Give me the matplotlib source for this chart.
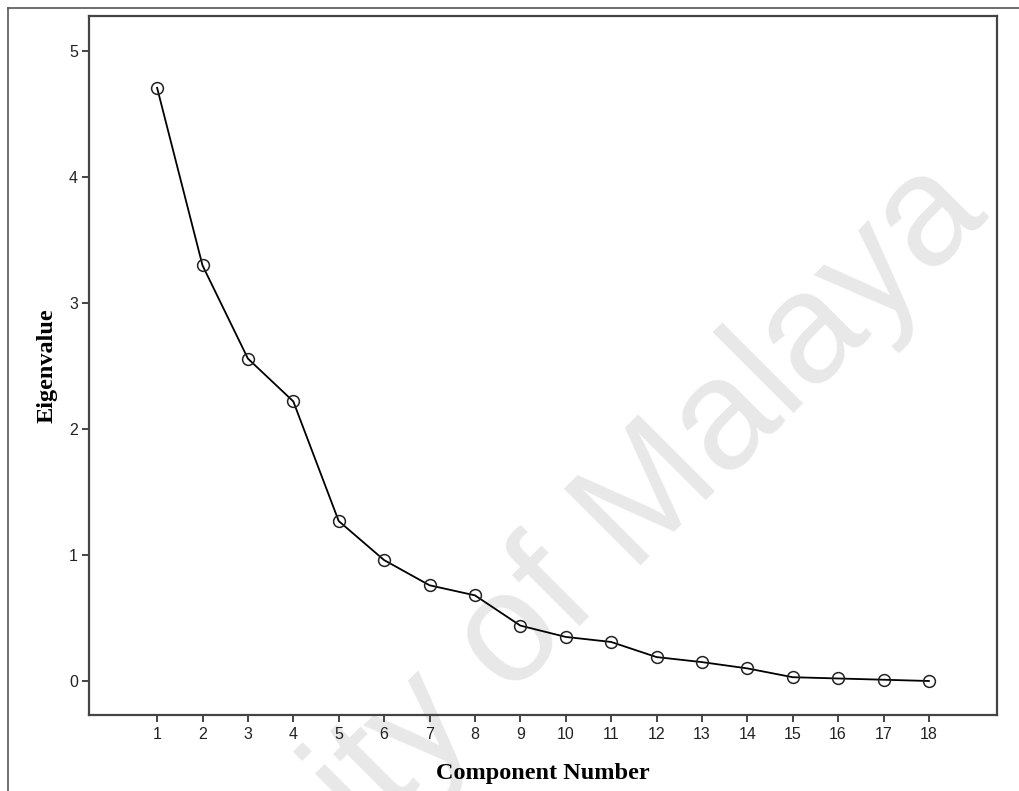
import matplotlib.pyplot as plt
from matplotlib.lines import Line2D

components = list(range(1, 19))
eigenvalues = [4.71, 3.30, 2.56, 2.22, 1.27, 0.96, 0.76, 0.68, 0.44,
               0.35, 0.31, 0.19, 0.15, 0.10, 0.03, 0.02, 0.01, 0.00]

fig = plt.figure(figsize=(10.2, 7.91), dpi=100)
ax = fig.add_axes([89 / 1020, 76 / 791, 908 / 1020, 699 / 791])

# watermark, behind everything
ax.text(990 / 1020, 1 - 216 / 791, "University of Malaya", rotation=45,
        rotation_mode="anchor", ha="right", va="baseline",
        transform=fig.transFigure, clip_on=False,
        fontsize=113, family="Liberation Sans", color="#e8e8e8", zorder=0)

ax.plot(components, eigenvalues, color="black", lw=1.3, marker="o",
        markersize=8.5, markerfacecolor="none", markeredgecolor="#222222",
        markeredgewidth=1.1, zorder=3)

ax.set_xlim(-0.5, 19.5)
ax.set_ylim(-0.27, 5.28)
ax.set_xticks(components)
ax.set_yticks(range(0, 6))

for s in ax.spines.values():
    s.set_color("#444444")
    s.set_linewidth(1.6)
    s.set_zorder(4)
ax.tick_params(direction="out", length=5, width=1.4, color="#444444",
               labelsize=11.5, labelcolor="#222222")
for lab in ax.get_xticklabels() + ax.get_yticklabels():
    lab.set_family("Liberation Sans")
ax.tick_params(axis="y", pad=3)

ax.set_xlabel("Component Number", family="Liberation Serif",
              fontweight="bold", fontsize=17.5, labelpad=15)
ax.set_ylabel("Eigenvalue", family="Liberation Serif",
              fontweight="bold", fontsize=17.5, labelpad=8)

# outer frame (left and top edges visible)
fig.add_artist(Line2D([8 / 1020, 8 / 1020], [0, 1 - 8 / 791],
                      transform=fig.transFigure, color="#555555", lw=1.2))
fig.add_artist(Line2D([8 / 1020, 1], [1 - 8 / 791, 1 - 8 / 791],
                      transform=fig.transFigure, color="#555555", lw=1.2))

plt.savefig("out.png", dpi=100)
